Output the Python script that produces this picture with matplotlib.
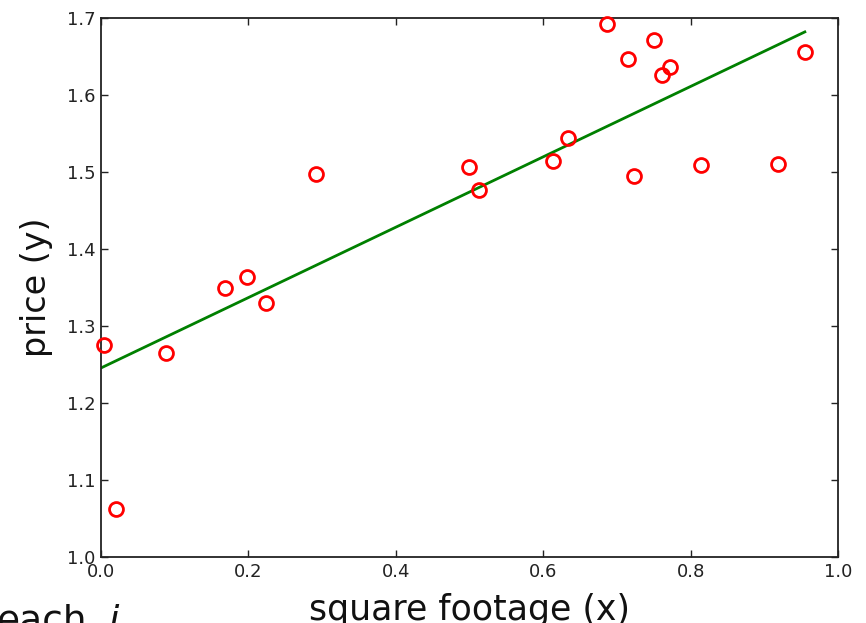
import matplotlib
matplotlib.use("Agg")
import matplotlib.pyplot as plt
import numpy as np

# Observed houses: normalised square footage and price
square_footage = [0.004, 0.020, 0.088, 0.168, 0.198, 0.224, 0.292, 0.499, 0.513,
                  0.613, 0.634, 0.687, 0.715, 0.723, 0.750, 0.761, 0.772, 0.814,
                  0.919, 0.955]
price = [1.275, 1.062, 1.265, 1.349, 1.364, 1.330, 1.497, 1.506, 1.477,
         1.514, 1.544, 1.692, 1.647, 1.495, 1.671, 1.626, 1.636, 1.509,
         1.510, 1.656]

# Fitted regression line
intercept = 1.2455
slope = 0.457
line_x = [0.0, 0.955]

x_ticks = [0.0, 0.2, 0.4, 0.6, 0.8, 1.0]
y_ticks = [1.0, 1.1, 1.2, 1.3, 1.4, 1.5, 1.6, 1.7]

W, H = 866, 623
fig = plt.figure(figsize=(W / 100, H / 100), dpi=100)
ax = fig.add_axes([101 / W, 1 - 557 / H, 737 / W, 539 / H])

lx = np.array(line_x)
ax.plot(lx, intercept + slope * lx, color=(0, 0.5, 0), lw=2, zorder=2)
ax.plot(square_footage, price, linestyle="none", marker="o", markersize=10,
        markerfacecolor="none", markeredgecolor="red", markeredgewidth=2,
        zorder=3, clip_on=False)

ax.set_xlim(0, 1.0)
ax.set_ylim(1.0, 1.7)
ax.set_xticks(x_ticks)
ax.set_yticks(y_ticks)
ax.set_xticklabels([f"{v:.1f}" for v in x_ticks])
ax.set_yticklabels([f"{v:.1f}" for v in y_ticks])
ax.tick_params(direction="in", top=True, right=True, length=5, width=1,
               labelsize=13, pad=4, colors="#222222")
for sp in ax.spines.values():
    sp.set_linewidth(1.3)
    sp.set_color("#222222")

ax.set_xlabel("square footage (x)", fontsize=25, labelpad=9, color="#111111")
ax.set_ylabel("price (y)", fontsize=24, labelpad=10, color="#111111")

# Caption running off the lower-left edge
fig.text(-3 / W, -9 / H, "each", fontsize=27, ha="left", va="baseline",
         color="#111111")
fig.text(108 / W, -9 / H, r"$i$", fontsize=27, ha="left", va="baseline",
         color="#111111")

fig.savefig("out.png", dpi=100, facecolor="white")
